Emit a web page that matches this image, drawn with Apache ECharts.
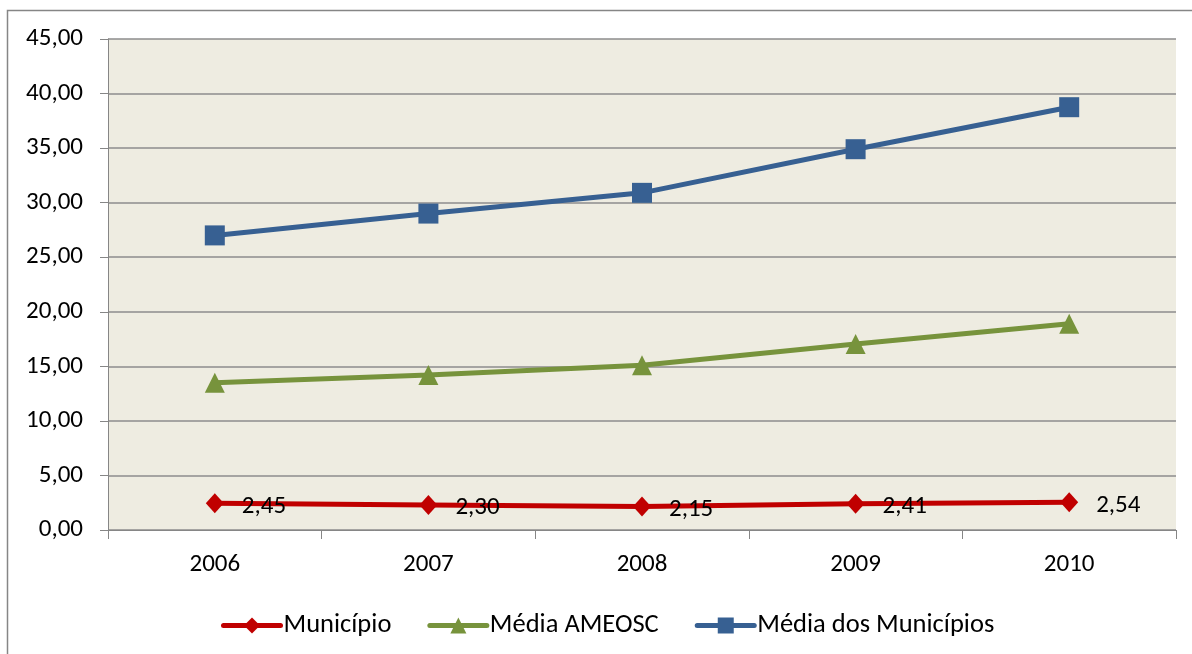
<!DOCTYPE html>
<html>
<head>
<meta charset="utf-8">
<script src="https://cdn.jsdelivr.net/npm/echarts@6/dist/echarts.min.js"></script>
<style>html,body{margin:0;padding:0;background:#fff;}#c{width:1192px;height:654px;}</style>
</head>
<body>
<div id="c"></div>
<script>
const categories = ['2006', '2007', '2008', '2009', '2010'];
const municipio = [2.45, 2.30, 2.15, 2.41, 2.54];
const mediaAmeosc = [13.5, 14.2, 15.1, 17.05, 18.9];
const mediaMunicipios = [27.0, 29.0, 30.9, 34.9, 38.75];
const seriesNames = ['Município', 'Média AMEOSC', 'Média dos Municípios'];

const FONT = "Carlito, 'Liberation Sans Narrow', 'Open Sans', sans-serif";
const fmt = v => v.toFixed(2).replace('.', ',');

const chart = echarts.init(document.getElementById('c'), null, {renderer: 'canvas'});
chart.setOption({
  animation: false,
  backgroundColor: '#ffffff',
  textStyle: {fontFamily: FONT},
  graphic: [{
    type: 'rect', silent: true, z: -10,
    shape: {x: 7.5, y: 10.5, width: 1200, height: 700},
    style: {fill: 'none', stroke: '#868686', lineWidth: 1.5}
  }],
  grid: {left: 108, right: 16, top: 39, bottom: 124, show: true, backgroundColor: '#EEECE1', borderWidth: 0},
  legend: {
    left: 221, top: 612,
    itemWidth: 57, itemHeight: 20, itemGap: 36, padding: 0,
    lineStyle: {width: 5, cap: 'round'},
    textStyle: {fontSize: 26.5, color: '#000', fontFamily: FONT, padding: [0, 0, 0, -2]},
    data: seriesNames
  },
  xAxis: {
    type: 'category', data: categories, boundaryGap: true,
    axisLine: {lineStyle: {color: '#868686', width: 1}},
    axisTick: {show: true, length: 9, lineStyle: {color: '#868686'}},
    axisLabel: {fontSize: 25, color: '#000', margin: 22, fontFamily: FONT},
    splitLine: {show: false}
  },
  yAxis: {
    type: 'value', min: 0, max: 45, interval: 5,
    axisLine: {show: true, lineStyle: {color: '#868686', width: 1}},
    axisTick: {show: true, length: 8, lineStyle: {color: '#868686'}},
    axisLabel: {fontSize: 25, color: '#000', margin: 25, fontFamily: FONT, formatter: fmt},
    splitLine: {show: true, lineStyle: {color: '#8C8C8C', width: 1.5}}
  },
  series: [
    {
      name: seriesNames[0], type: 'line', data: municipio,
      symbol: 'diamond', symbolSize: [18, 20],
      lineStyle: {color: '#C00000', width: 5},
      itemStyle: {color: '#C00000'},
      label: {show: true, position: 'right', distance: 18, offset: [0, 3], fontSize: 25, color: '#000', fontFamily: FONT, formatter: p => fmt(p.value)},
      z: 4
    },
    {
      name: seriesNames[1], type: 'line', data: mediaAmeosc,
      symbol: 'triangle', symbolSize: [20, 20],
      lineStyle: {color: '#77933C', width: 5},
      itemStyle: {color: '#77933C'},
      z: 3
    },
    {
      name: seriesNames[2], type: 'line', data: mediaMunicipios,
      symbol: 'rect', symbolSize: [20, 20],
      lineStyle: {color: '#376092', width: 5},
      itemStyle: {color: '#376092'},
      z: 2
    }
  ]
});
</script>
</body>
</html>
